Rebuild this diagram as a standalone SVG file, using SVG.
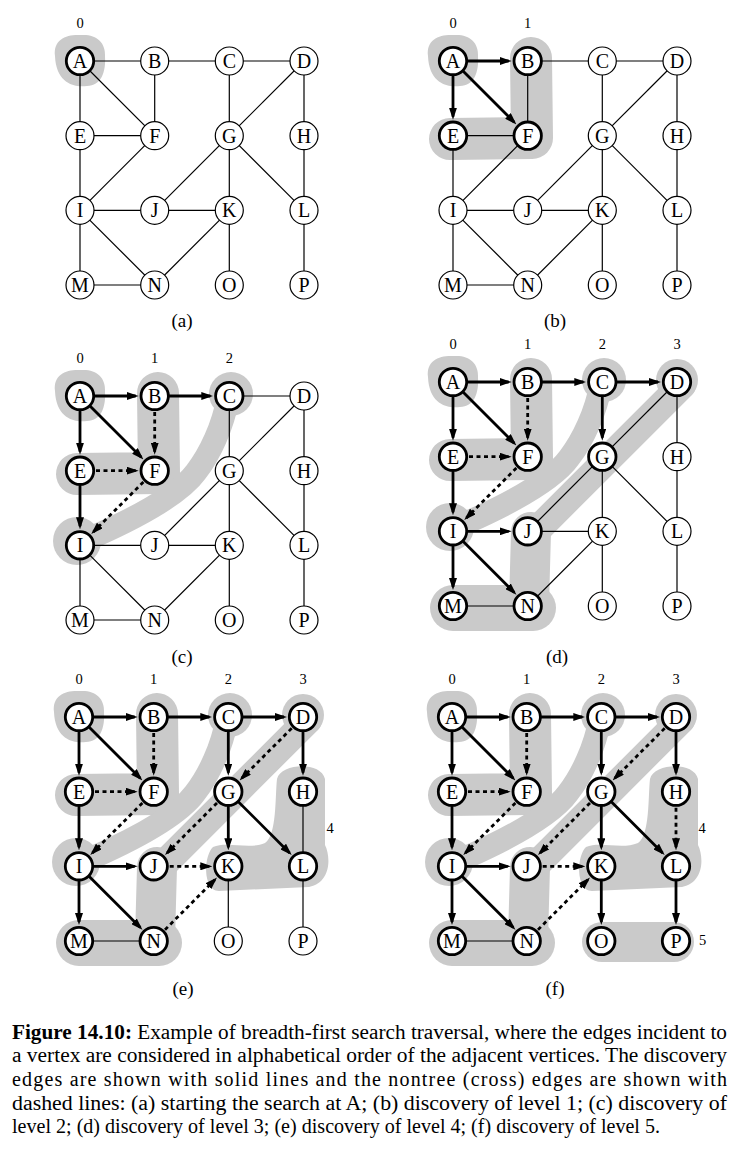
<svg xmlns="http://www.w3.org/2000/svg" xmlns:xlink="http://www.w3.org/1999/xlink" width="734" height="1163" viewBox="0 0 734 1163" font-family="Liberation Serif, Times New Roman, serif">
<style>
.nd circle{fill:#fff;stroke:#000;stroke-width:1.2}
.nd.v circle{stroke-width:2.8}
.nd text{font-size:20px;text-anchor:middle;fill:#000}
.edges path{fill:none;stroke:#000;stroke-width:1.2}
.edges path.t{stroke-width:2.8;marker-end:url(#ah)}
.edges path.x{stroke-width:2.8;stroke-dasharray:4 3.5;marker-end:url(#ah)}
.blob{fill:#cacaca}
.bs{fill:none;stroke:#cacaca;stroke-linecap:round;stroke-linejoin:round}
.lv{font-size:14.5px;text-anchor:middle;fill:#000}
.pl{font-size:19px;text-anchor:middle;fill:#000}
.cap{font-size:20px;fill:#000}
</style>
<defs>
<marker id="ah" viewBox="0 0 12 8" refX="9" refY="4" markerWidth="12" markerHeight="8" markerUnits="userSpaceOnUse" orient="auto"><path d="M0,0 L12,4 L0,8 z"/></marker>
<path id="lv0" class="blob" d="M-25,-5 C-27,-22 -13,-27 1,-26 C16,-27 26,-19 25,-4 C26,11 21,25 7,25 C-7,27 -24,21 -25,-5Z"/>
<path id="lv1" class="bs" stroke-width="42" d="M78,-3 L79,77 L-3,78"/>
<g id="lv2"><circle class="blob" cx="151" cy="-2" r="22"/><path class="bs" stroke-width="23" d="M148,2 C143,30 130,58 116,76 C100,98 60,120 15,140"/><circle class="blob" cx="-3" cy="145" r="24"/></g>
<g id="lv3"><circle class="blob" cx="224" cy="-2" r="21"/><path class="bs" stroke-width="28" d="M229,3 L160,72 L86,146"/><path class="bs" stroke-width="40" d="M78,150 L76,222"/><path class="bs" stroke-width="46" d="M0,226 L80,226"/></g>
<path id="lv4" class="blob" d="M198,62 C202,46 242,44 246,62 L246,128 C252,140 252,166 230,170 L140,174 C124,174 124,140 134,130 C148,124 170,133 186,126 C198,118 196,80 198,62Z"/>
<path id="lv5" class="bs" stroke-width="40" d="M150,225 L222,225"/>
</defs>

<!-- Panel (a) -->
<g id="panel-a" transform="translate(80,61)">
<use xlink:href="#lv0"/>
<g class="edges">
<path d="M0,0H74.7"/><path d="M74.7,0H149.3"/><path d="M149.3,0H224"/><path d="M0,0V74.7"/><path d="M0,0L74.7,74.7"/><path d="M74.7,0V74.7"/><path d="M149.3,0V74.7"/><path d="M224,0L149.3,74.7"/><path d="M224,0V74.7"/><path d="M0,74.7H74.7"/><path d="M0,74.7V149.3"/><path d="M74.7,74.7L0,149.3"/><path d="M149.3,74.7L74.7,149.3"/><path d="M149.3,74.7V149.3"/><path d="M149.3,74.7L224,149.3"/><path d="M224,74.7V149.3"/><path d="M0,149.3H74.7"/><path d="M74.7,149.3H149.3"/><path d="M0,149.3V224"/><path d="M0,149.3L74.7,224"/><path d="M149.3,149.3L74.7,224"/><path d="M149.3,149.3V224"/><path d="M224,149.3V224"/><path d="M0,224H74.7"/>
</g>
<g id="a-A" class="nd v"><circle r="13.7"/><text y="6.8" font-family="Liberation Serif, serif">A</text></g>
<g id="a-B" class="nd" transform="translate(74.7,0)"><circle r="14"/><text y="6.8" font-family="Liberation Serif, serif">B</text></g>
<g id="a-C" class="nd" transform="translate(149.3,0)"><circle r="14"/><text y="6.8" font-family="Liberation Serif, serif">C</text></g>
<g id="a-D" class="nd" transform="translate(224,0)"><circle r="14"/><text y="6.8" font-family="Liberation Serif, serif">D</text></g>
<g id="a-E" class="nd" transform="translate(0,74.7)"><circle r="14"/><text y="6.8" font-family="Liberation Serif, serif">E</text></g>
<g id="a-F" class="nd" transform="translate(74.7,74.7)"><circle r="14"/><text y="6.8" font-family="Liberation Serif, serif">F</text></g>
<g id="a-G" class="nd" transform="translate(149.3,74.7)"><circle r="14"/><text y="6.8" font-family="Liberation Serif, serif">G</text></g>
<g id="a-H" class="nd" transform="translate(224,74.7)"><circle r="14"/><text y="6.8" font-family="Liberation Serif, serif">H</text></g>
<g id="a-I" class="nd" transform="translate(0,149.3)"><circle r="14"/><text y="6.8" font-family="Liberation Serif, serif">I</text></g>
<g id="a-J" class="nd" transform="translate(74.7,149.3)"><circle r="14"/><text y="6.8" font-family="Liberation Serif, serif">J</text></g>
<g id="a-K" class="nd" transform="translate(149.3,149.3)"><circle r="14"/><text y="6.8" font-family="Liberation Serif, serif">K</text></g>
<g id="a-L" class="nd" transform="translate(224,149.3)"><circle r="14"/><text y="6.8" font-family="Liberation Serif, serif">L</text></g>
<g id="a-M" class="nd" transform="translate(0,224)"><circle r="14"/><text y="6.8" font-family="Liberation Serif, serif">M</text></g>
<g id="a-N" class="nd" transform="translate(74.7,224)"><circle r="14"/><text y="6.8" font-family="Liberation Serif, serif">N</text></g>
<g id="a-O" class="nd" transform="translate(149.3,224)"><circle r="14"/><text y="6.8" font-family="Liberation Serif, serif">O</text></g>
<g id="a-P" class="nd" transform="translate(224,224)"><circle r="14"/><text y="6.8" font-family="Liberation Serif, serif">P</text></g>
<text class="lv" x="0" y="-33" font-family="Liberation Serif, serif">0</text>
</g>
<text class="pl" x="182" y="327" font-family="Liberation Serif, serif">(a)</text>

<!-- Panel (b) -->
<g id="panel-b" transform="translate(453,61)">
<use xlink:href="#lv0"/><use xlink:href="#lv1"/>
<g class="edges">
<path d="M74.7,0H149.3"/><path d="M149.3,0H224"/><path d="M74.7,0V74.7"/><path d="M149.3,0V74.7"/><path d="M224,0L149.3,74.7"/><path d="M224,0V74.7"/><path d="M0,74.7H74.7"/><path d="M0,74.7V149.3"/><path d="M74.7,74.7L0,149.3"/><path d="M149.3,74.7L74.7,149.3"/><path d="M149.3,74.7V149.3"/><path d="M149.3,74.7L224,149.3"/><path d="M224,74.7V149.3"/><path d="M0,149.3H74.7"/><path d="M74.7,149.3H149.3"/><path d="M0,149.3V224"/><path d="M0,149.3L74.7,224"/><path d="M149.3,149.3L74.7,224"/><path d="M149.3,149.3V224"/><path d="M224,149.3V224"/><path d="M0,224H74.7"/>
<path class="t" d="M0,0H55.7"/><path class="t" d="M0,0V55.7"/><path class="t" d="M0,0L61.3,61.3"/>
</g>
<g id="b-A" class="nd v"><circle r="13.7"/><text y="6.8" font-family="Liberation Serif, serif">A</text></g>
<g id="b-B" class="nd v" transform="translate(74.7,0)"><circle r="13.7"/><text y="6.8" font-family="Liberation Serif, serif">B</text></g>
<g id="b-C" class="nd" transform="translate(149.3,0)"><circle r="14"/><text y="6.8" font-family="Liberation Serif, serif">C</text></g>
<g id="b-D" class="nd" transform="translate(224,0)"><circle r="14"/><text y="6.8" font-family="Liberation Serif, serif">D</text></g>
<g id="b-E" class="nd v" transform="translate(0,74.7)"><circle r="13.7"/><text y="6.8" font-family="Liberation Serif, serif">E</text></g>
<g id="b-F" class="nd v" transform="translate(74.7,74.7)"><circle r="13.7"/><text y="6.8" font-family="Liberation Serif, serif">F</text></g>
<g id="b-G" class="nd" transform="translate(149.3,74.7)"><circle r="14"/><text y="6.8" font-family="Liberation Serif, serif">G</text></g>
<g id="b-H" class="nd" transform="translate(224,74.7)"><circle r="14"/><text y="6.8" font-family="Liberation Serif, serif">H</text></g>
<g id="b-I" class="nd" transform="translate(0,149.3)"><circle r="14"/><text y="6.8" font-family="Liberation Serif, serif">I</text></g>
<g id="b-J" class="nd" transform="translate(74.7,149.3)"><circle r="14"/><text y="6.8" font-family="Liberation Serif, serif">J</text></g>
<g id="b-K" class="nd" transform="translate(149.3,149.3)"><circle r="14"/><text y="6.8" font-family="Liberation Serif, serif">K</text></g>
<g id="b-L" class="nd" transform="translate(224,149.3)"><circle r="14"/><text y="6.8" font-family="Liberation Serif, serif">L</text></g>
<g id="b-M" class="nd" transform="translate(0,224)"><circle r="14"/><text y="6.8" font-family="Liberation Serif, serif">M</text></g>
<g id="b-N" class="nd" transform="translate(74.7,224)"><circle r="14"/><text y="6.8" font-family="Liberation Serif, serif">N</text></g>
<g id="b-O" class="nd" transform="translate(149.3,224)"><circle r="14"/><text y="6.8" font-family="Liberation Serif, serif">O</text></g>
<g id="b-P" class="nd" transform="translate(224,224)"><circle r="14"/><text y="6.8" font-family="Liberation Serif, serif">P</text></g>
<text class="lv" x="0" y="-33" font-family="Liberation Serif, serif">0</text><text class="lv" x="74.7" y="-33" font-family="Liberation Serif, serif">1</text>
</g>
<text class="pl" x="555" y="327" font-family="Liberation Serif, serif">(b)</text>

<!-- Panel (c) -->
<g id="panel-c" transform="translate(80,396)">
<use xlink:href="#lv0"/><use xlink:href="#lv1"/><use xlink:href="#lv2"/>
<g class="edges">
<path d="M149.3,0H224"/><path d="M149.3,0V74.7"/><path d="M224,0L149.3,74.7"/><path d="M224,0V74.7"/><path d="M149.3,74.7L74.7,149.3"/><path d="M149.3,74.7V149.3"/><path d="M149.3,74.7L224,149.3"/><path d="M224,74.7V149.3"/><path d="M0,149.3H74.7"/><path d="M74.7,149.3H149.3"/><path d="M0,149.3V224"/><path d="M0,149.3L74.7,224"/><path d="M149.3,149.3L74.7,224"/><path d="M149.3,149.3V224"/><path d="M224,149.3V224"/><path d="M0,224H74.7"/>
<path class="t" d="M0,0H55.7"/><path class="t" d="M0,0V55.7"/><path class="t" d="M0,0L61.3,61.3"/><path class="t" d="M74.7,0H130.3"/><path class="t" d="M0,74.7V130.3"/>
<path class="x" d="M74.7,16V55.7"/><path class="x" d="M16,74.7H55.7"/><path class="x" d="M63.4,86L13.4,135.9"/>
</g>
<g id="c-A" class="nd v"><circle r="13.7"/><text y="6.8" font-family="Liberation Serif, serif">A</text></g>
<g id="c-B" class="nd v" transform="translate(74.7,0)"><circle r="13.7"/><text y="6.8" font-family="Liberation Serif, serif">B</text></g>
<g id="c-C" class="nd v" transform="translate(149.3,0)"><circle r="13.7"/><text y="6.8" font-family="Liberation Serif, serif">C</text></g>
<g id="c-D" class="nd" transform="translate(224,0)"><circle r="14"/><text y="6.8" font-family="Liberation Serif, serif">D</text></g>
<g id="c-E" class="nd v" transform="translate(0,74.7)"><circle r="13.7"/><text y="6.8" font-family="Liberation Serif, serif">E</text></g>
<g id="c-F" class="nd v" transform="translate(74.7,74.7)"><circle r="13.7"/><text y="6.8" font-family="Liberation Serif, serif">F</text></g>
<g id="c-G" class="nd" transform="translate(149.3,74.7)"><circle r="14"/><text y="6.8" font-family="Liberation Serif, serif">G</text></g>
<g id="c-H" class="nd" transform="translate(224,74.7)"><circle r="14"/><text y="6.8" font-family="Liberation Serif, serif">H</text></g>
<g id="c-I" class="nd v" transform="translate(0,149.3)"><circle r="13.7"/><text y="6.8" font-family="Liberation Serif, serif">I</text></g>
<g id="c-J" class="nd" transform="translate(74.7,149.3)"><circle r="14"/><text y="6.8" font-family="Liberation Serif, serif">J</text></g>
<g id="c-K" class="nd" transform="translate(149.3,149.3)"><circle r="14"/><text y="6.8" font-family="Liberation Serif, serif">K</text></g>
<g id="c-L" class="nd" transform="translate(224,149.3)"><circle r="14"/><text y="6.8" font-family="Liberation Serif, serif">L</text></g>
<g id="c-M" class="nd" transform="translate(0,224)"><circle r="14"/><text y="6.8" font-family="Liberation Serif, serif">M</text></g>
<g id="c-N" class="nd" transform="translate(74.7,224)"><circle r="14"/><text y="6.8" font-family="Liberation Serif, serif">N</text></g>
<g id="c-O" class="nd" transform="translate(149.3,224)"><circle r="14"/><text y="6.8" font-family="Liberation Serif, serif">O</text></g>
<g id="c-P" class="nd" transform="translate(224,224)"><circle r="14"/><text y="6.8" font-family="Liberation Serif, serif">P</text></g>
<text class="lv" x="0" y="-33" font-family="Liberation Serif, serif">0</text><text class="lv" x="74.7" y="-33" font-family="Liberation Serif, serif">1</text><text class="lv" x="149.3" y="-33" font-family="Liberation Serif, serif">2</text>
</g>
<text class="pl" x="182" y="663" font-family="Liberation Serif, serif">(c)</text>

<!-- Panel (d) -->
<g id="panel-d" transform="translate(453,382)">
<use xlink:href="#lv0"/><use xlink:href="#lv1"/><use xlink:href="#lv2"/><use xlink:href="#lv3"/>
<g class="edges">
<path d="M224,0L149.3,74.7"/><path d="M224,0V74.7"/><path d="M149.3,74.7L74.7,149.3"/><path d="M149.3,74.7V149.3"/><path d="M149.3,74.7L224,149.3"/><path d="M224,74.7V149.3"/><path d="M74.7,149.3H149.3"/><path d="M149.3,149.3L74.7,224"/><path d="M149.3,149.3V224"/><path d="M224,149.3V224"/><path d="M0,224H74.7"/>
<path class="t" d="M0,0H55.7"/><path class="t" d="M0,0V55.7"/><path class="t" d="M0,0L61.3,61.3"/><path class="t" d="M74.7,0H130.3"/><path class="t" d="M0,74.7V130.3"/><path class="t" d="M149.3,0H205"/><path class="t" d="M149.3,0V55.7"/><path class="t" d="M0,149.3H55.7"/><path class="t" d="M0,149.3V205"/><path class="t" d="M0,149.3L61.3,210.6"/>
<path class="x" d="M74.7,16V55.7"/><path class="x" d="M16,74.7H55.7"/><path class="x" d="M63.4,86L13.4,135.9"/>
</g>
<g id="d-A" class="nd v"><circle r="13.7"/><text y="6.8" font-family="Liberation Serif, serif">A</text></g>
<g id="d-B" class="nd v" transform="translate(74.7,0)"><circle r="13.7"/><text y="6.8" font-family="Liberation Serif, serif">B</text></g>
<g id="d-C" class="nd v" transform="translate(149.3,0)"><circle r="13.7"/><text y="6.8" font-family="Liberation Serif, serif">C</text></g>
<g id="d-D" class="nd v" transform="translate(224,0)"><circle r="13.7"/><text y="6.8" font-family="Liberation Serif, serif">D</text></g>
<g id="d-E" class="nd v" transform="translate(0,74.7)"><circle r="13.7"/><text y="6.8" font-family="Liberation Serif, serif">E</text></g>
<g id="d-F" class="nd v" transform="translate(74.7,74.7)"><circle r="13.7"/><text y="6.8" font-family="Liberation Serif, serif">F</text></g>
<g id="d-G" class="nd v" transform="translate(149.3,74.7)"><circle r="13.7"/><text y="6.8" font-family="Liberation Serif, serif">G</text></g>
<g id="d-H" class="nd" transform="translate(224,74.7)"><circle r="14"/><text y="6.8" font-family="Liberation Serif, serif">H</text></g>
<g id="d-I" class="nd v" transform="translate(0,149.3)"><circle r="13.7"/><text y="6.8" font-family="Liberation Serif, serif">I</text></g>
<g id="d-J" class="nd v" transform="translate(74.7,149.3)"><circle r="13.7"/><text y="6.8" font-family="Liberation Serif, serif">J</text></g>
<g id="d-K" class="nd" transform="translate(149.3,149.3)"><circle r="14"/><text y="6.8" font-family="Liberation Serif, serif">K</text></g>
<g id="d-L" class="nd" transform="translate(224,149.3)"><circle r="14"/><text y="6.8" font-family="Liberation Serif, serif">L</text></g>
<g id="d-M" class="nd v" transform="translate(0,224)"><circle r="13.7"/><text y="6.8" font-family="Liberation Serif, serif">M</text></g>
<g id="d-N" class="nd v" transform="translate(74.7,224)"><circle r="13.7"/><text y="6.8" font-family="Liberation Serif, serif">N</text></g>
<g id="d-O" class="nd" transform="translate(149.3,224)"><circle r="14"/><text y="6.8" font-family="Liberation Serif, serif">O</text></g>
<g id="d-P" class="nd" transform="translate(224,224)"><circle r="14"/><text y="6.8" font-family="Liberation Serif, serif">P</text></g>
<text class="lv" x="0" y="-33" font-family="Liberation Serif, serif">0</text><text class="lv" x="74.7" y="-33" font-family="Liberation Serif, serif">1</text><text class="lv" x="149.3" y="-33" font-family="Liberation Serif, serif">2</text><text class="lv" x="224" y="-33" font-family="Liberation Serif, serif">3</text>
</g>
<text class="pl" x="557" y="663" font-family="Liberation Serif, serif">(d)</text>

<!-- Panel (e) -->
<g id="panel-e" transform="translate(79,717)">
<use xlink:href="#lv0"/><use xlink:href="#lv1"/><use xlink:href="#lv2"/><use xlink:href="#lv3"/><use xlink:href="#lv4"/>
<g class="edges">
<path d="M224,74.7V149.3"/><path d="M149.3,149.3V224"/><path d="M224,149.3V224"/><path d="M0,224H74.7"/>
<path class="t" d="M0,0H55.7"/><path class="t" d="M0,0V55.7"/><path class="t" d="M0,0L61.3,61.3"/><path class="t" d="M74.7,0H130.3"/><path class="t" d="M0,74.7V130.3"/><path class="t" d="M149.3,0H205"/><path class="t" d="M149.3,0V55.7"/><path class="t" d="M0,149.3H55.7"/><path class="t" d="M0,149.3V205"/><path class="t" d="M0,149.3L61.3,210.6"/><path class="t" d="M224,0V55.7"/><path class="t" d="M149.3,74.7V130.3"/><path class="t" d="M149.3,74.7L210.6,135.9"/>
<path class="x" d="M74.7,16V55.7"/><path class="x" d="M16,74.7H55.7"/><path class="x" d="M63.4,86L13.4,135.9"/><path class="x" d="M212.7,11.3L162.7,61.3"/><path class="x" d="M138,86L88.1,135.9"/><path class="x" d="M90.7,149.3H130.3"/><path class="x" d="M86,212.7L135.9,162.7"/>
</g>
<g id="e-A" class="nd v"><circle r="13.7"/><text y="6.8" font-family="Liberation Serif, serif">A</text></g>
<g id="e-B" class="nd v" transform="translate(74.7,0)"><circle r="13.7"/><text y="6.8" font-family="Liberation Serif, serif">B</text></g>
<g id="e-C" class="nd v" transform="translate(149.3,0)"><circle r="13.7"/><text y="6.8" font-family="Liberation Serif, serif">C</text></g>
<g id="e-D" class="nd v" transform="translate(224,0)"><circle r="13.7"/><text y="6.8" font-family="Liberation Serif, serif">D</text></g>
<g id="e-E" class="nd v" transform="translate(0,74.7)"><circle r="13.7"/><text y="6.8" font-family="Liberation Serif, serif">E</text></g>
<g id="e-F" class="nd v" transform="translate(74.7,74.7)"><circle r="13.7"/><text y="6.8" font-family="Liberation Serif, serif">F</text></g>
<g id="e-G" class="nd v" transform="translate(149.3,74.7)"><circle r="13.7"/><text y="6.8" font-family="Liberation Serif, serif">G</text></g>
<g id="e-H" class="nd v" transform="translate(224,74.7)"><circle r="13.7"/><text y="6.8" font-family="Liberation Serif, serif">H</text></g>
<g id="e-I" class="nd v" transform="translate(0,149.3)"><circle r="13.7"/><text y="6.8" font-family="Liberation Serif, serif">I</text></g>
<g id="e-J" class="nd v" transform="translate(74.7,149.3)"><circle r="13.7"/><text y="6.8" font-family="Liberation Serif, serif">J</text></g>
<g id="e-K" class="nd v" transform="translate(149.3,149.3)"><circle r="13.7"/><text y="6.8" font-family="Liberation Serif, serif">K</text></g>
<g id="e-L" class="nd v" transform="translate(224,149.3)"><circle r="13.7"/><text y="6.8" font-family="Liberation Serif, serif">L</text></g>
<g id="e-M" class="nd v" transform="translate(0,224)"><circle r="13.7"/><text y="6.8" font-family="Liberation Serif, serif">M</text></g>
<g id="e-N" class="nd v" transform="translate(74.7,224)"><circle r="13.7"/><text y="6.8" font-family="Liberation Serif, serif">N</text></g>
<g id="e-O" class="nd" transform="translate(149.3,224)"><circle r="14"/><text y="6.8" font-family="Liberation Serif, serif">O</text></g>
<g id="e-P" class="nd" transform="translate(224,224)"><circle r="14"/><text y="6.8" font-family="Liberation Serif, serif">P</text></g>
<text class="lv" x="0" y="-33" font-family="Liberation Serif, serif">0</text><text class="lv" x="74.7" y="-33" font-family="Liberation Serif, serif">1</text><text class="lv" x="149.3" y="-33" font-family="Liberation Serif, serif">2</text><text class="lv" x="224" y="-33" font-family="Liberation Serif, serif">3</text><text class="lv" x="251" y="116" font-family="Liberation Serif, serif">4</text>
</g>
<text class="pl" x="183" y="995" font-family="Liberation Serif, serif">(e)</text>

<!-- Panel (f) -->
<g id="panel-f" transform="translate(452,717)">
<use xlink:href="#lv0"/><use xlink:href="#lv1"/><use xlink:href="#lv2"/><use xlink:href="#lv3"/><use xlink:href="#lv4"/><use xlink:href="#lv5"/>
<g class="edges">
<path d="M0,224H74.7"/>
<path class="t" d="M0,0H55.7"/><path class="t" d="M0,0V55.7"/><path class="t" d="M0,0L61.3,61.3"/><path class="t" d="M74.7,0H130.3"/><path class="t" d="M0,74.7V130.3"/><path class="t" d="M149.3,0H205"/><path class="t" d="M149.3,0V55.7"/><path class="t" d="M0,149.3H55.7"/><path class="t" d="M0,149.3V205"/><path class="t" d="M0,149.3L61.3,210.6"/><path class="t" d="M224,0V55.7"/><path class="t" d="M149.3,74.7V130.3"/><path class="t" d="M149.3,74.7L210.6,135.9"/><path class="t" d="M149.3,149.3V205"/><path class="t" d="M224,149.3V205"/>
<path class="x" d="M74.7,16V55.7"/><path class="x" d="M16,74.7H55.7"/><path class="x" d="M63.4,86L13.4,135.9"/><path class="x" d="M212.7,11.3L162.7,61.3"/><path class="x" d="M138,86L88.1,135.9"/><path class="x" d="M90.7,149.3H130.3"/><path class="x" d="M86,212.7L135.9,162.7"/><path class="x" d="M224,90.7V130.3"/>
</g>
<g id="f-A" class="nd v"><circle r="13.7"/><text y="6.8" font-family="Liberation Serif, serif">A</text></g>
<g id="f-B" class="nd v" transform="translate(74.7,0)"><circle r="13.7"/><text y="6.8" font-family="Liberation Serif, serif">B</text></g>
<g id="f-C" class="nd v" transform="translate(149.3,0)"><circle r="13.7"/><text y="6.8" font-family="Liberation Serif, serif">C</text></g>
<g id="f-D" class="nd v" transform="translate(224,0)"><circle r="13.7"/><text y="6.8" font-family="Liberation Serif, serif">D</text></g>
<g id="f-E" class="nd v" transform="translate(0,74.7)"><circle r="13.7"/><text y="6.8" font-family="Liberation Serif, serif">E</text></g>
<g id="f-F" class="nd v" transform="translate(74.7,74.7)"><circle r="13.7"/><text y="6.8" font-family="Liberation Serif, serif">F</text></g>
<g id="f-G" class="nd v" transform="translate(149.3,74.7)"><circle r="13.7"/><text y="6.8" font-family="Liberation Serif, serif">G</text></g>
<g id="f-H" class="nd v" transform="translate(224,74.7)"><circle r="13.7"/><text y="6.8" font-family="Liberation Serif, serif">H</text></g>
<g id="f-I" class="nd v" transform="translate(0,149.3)"><circle r="13.7"/><text y="6.8" font-family="Liberation Serif, serif">I</text></g>
<g id="f-J" class="nd v" transform="translate(74.7,149.3)"><circle r="13.7"/><text y="6.8" font-family="Liberation Serif, serif">J</text></g>
<g id="f-K" class="nd v" transform="translate(149.3,149.3)"><circle r="13.7"/><text y="6.8" font-family="Liberation Serif, serif">K</text></g>
<g id="f-L" class="nd v" transform="translate(224,149.3)"><circle r="13.7"/><text y="6.8" font-family="Liberation Serif, serif">L</text></g>
<g id="f-M" class="nd v" transform="translate(0,224)"><circle r="13.7"/><text y="6.8" font-family="Liberation Serif, serif">M</text></g>
<g id="f-N" class="nd v" transform="translate(74.7,224)"><circle r="13.7"/><text y="6.8" font-family="Liberation Serif, serif">N</text></g>
<g id="f-O" class="nd v" transform="translate(149.3,224)"><circle r="13.7"/><text y="6.8" font-family="Liberation Serif, serif">O</text></g>
<g id="f-P" class="nd v" transform="translate(224,224)"><circle r="13.7"/><text y="6.8" font-family="Liberation Serif, serif">P</text></g>
<text class="lv" x="0" y="-33" font-family="Liberation Serif, serif">0</text><text class="lv" x="74.7" y="-33" font-family="Liberation Serif, serif">1</text><text class="lv" x="149.3" y="-33" font-family="Liberation Serif, serif">2</text><text class="lv" x="224" y="-33" font-family="Liberation Serif, serif">3</text><text class="lv" x="250" y="116" font-family="Liberation Serif, serif">4</text><text class="lv" x="250.7" y="228" font-family="Liberation Serif, serif">5</text>
</g>
<text class="pl" x="555" y="995" font-family="Liberation Serif, serif">(f)</text>

<!-- Caption -->
<g id="caption" class="cap" font-family="Liberation Serif, serif">
<text x="12" y="1039" textLength="715" lengthAdjust="spacingAndGlyphs"><tspan font-weight="bold">Figure 14.10:</tspan> Example of breadth-first search traversal, where the edges incident to</text>
<text x="12" y="1062" textLength="715" lengthAdjust="spacingAndGlyphs">a vertex are considered in alphabetical order of the adjacent vertices. The discovery</text>
<text x="12" y="1086" textLength="715" lengthAdjust="spacing">edges are shown with solid lines and the nontree (cross) edges are shown with</text>
<text x="12" y="1110" textLength="715" lengthAdjust="spacingAndGlyphs">dashed lines: (a) starting the search at A; (b) discovery of level 1; (c) discovery of</text>
<text x="12" y="1133" textLength="648" lengthAdjust="spacingAndGlyphs">level 2; (d) discovery of level 3; (e) discovery of level 4; (f) discovery of level 5.</text>
</g>
</svg>
